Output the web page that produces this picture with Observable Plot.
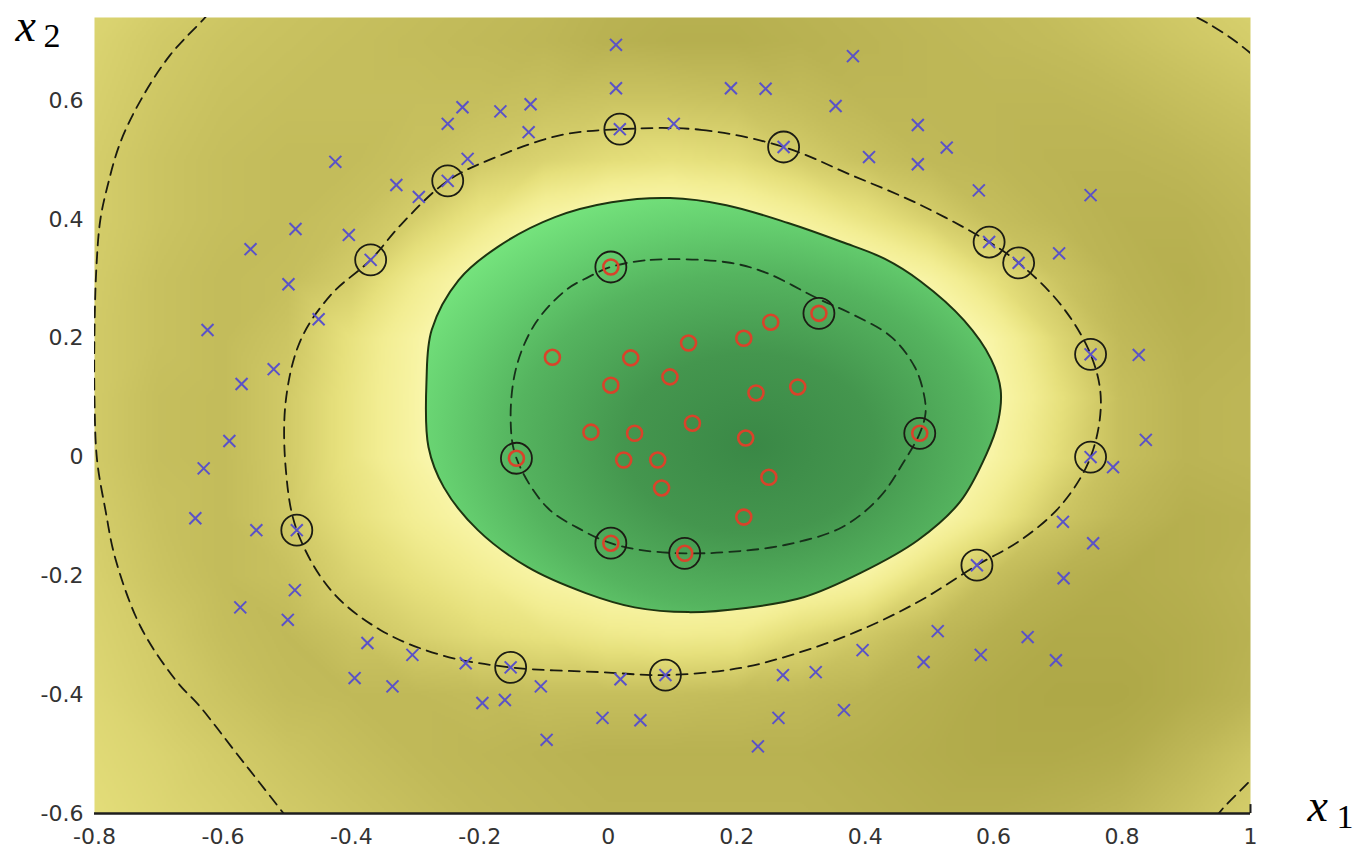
<!DOCTYPE html>
<html><head><meta charset="utf-8">
<script src="https://cdn.jsdelivr.net/npm/d3@7"></script>
<script src="https://cdn.jsdelivr.net/npm/@observablehq/plot@0.6"></script>
<style>body{margin:0;background:#fff} svg{display:block}</style>
</head><body><div id="chart"></div>
<script>
// ---------- data ----------
const xTicks = [-0.8, -0.6, -0.4, -0.2, 0, 0.2, 0.4, 0.6, 0.8, 1];
const yTicks = [-0.6, -0.4, -0.2, 0, 0.2, 0.4, 0.6];

// decision-value field, sampled on a grid (read from the shading)
const gridX = [-0.8, -0.7, -0.6, -0.5, -0.4, -0.3, -0.2, -0.1, 0, 0.1, 0.2, 0.3, 0.4, 0.5, 0.6, 0.7, 0.8, 0.9, 1.0];
const gridY = [0.8, 0.7, 0.6, 0.5, 0.4, 0.3, 0.2, 0.1, 0, -0.1, -0.2, -0.3, -0.4, -0.5, -0.6];
const decision = [
  [-0.80,-0.90,-1.00,-1.10,-1.15,-1.20,-1.25,-1.30,-1.40,-1.45,-1.45,-1.40,-1.35,-1.30,-1.25,-1.15,-1.05,-0.95,-0.85],
  [-0.85,-1.00,-1.10,-1.15,-1.20,-1.25,-1.30,-1.35,-1.45,-1.50,-1.50,-1.45,-1.40,-1.35,-1.30,-1.25,-1.15,-1.05,-0.95],
  [-0.90,-1.05,-1.15,-1.20,-1.20,-1.20,-1.20,-1.15,-1.10,-1.10,-1.15,-1.25,-1.35,-1.35,-1.35,-1.35,-1.30,-1.20,-1.10],
  [-0.95,-1.10,-1.20,-1.25,-1.25,-1.15,-1.02,-0.85,-0.70,-0.62,-0.70,-0.95,-1.15,-1.30,-1.35,-1.40,-1.40,-1.35,-1.25],
  [-0.95,-1.10,-1.20,-1.25,-1.15,-0.92,-0.50,-0.05, 0.20, 0.25, 0.10,-0.20,-0.55,-0.90,-1.20,-1.35,-1.45,-1.45,-1.35],
  [-0.98,-1.15,-1.25,-1.20,-0.95,-0.40, 0.10, 0.30, 0.30, 0.30, 0.30, 0.30, 0.25,-0.10,-0.65,-1.10,-1.40,-1.50,-1.40],
  [-1.00,-1.15,-1.25,-1.08,-0.60,-0.10, 0.30, 0.30, 0.30, 0.30, 0.30, 0.30, 0.30, 0.30,-0.08,-0.80,-1.30,-1.45,-1.40],
  [-1.00,-1.20,-1.25,-1.00,-0.55,-0.07, 0.30, 0.30, 0.30, 0.30, 0.30, 0.30, 0.30, 0.30, 0.05,-0.60,-1.20,-1.40,-1.35],
  [-1.00,-1.20,-1.25,-1.00,-0.55,-0.08, 0.30, 0.30, 0.30, 0.30, 0.30, 0.30, 0.30, 0.30,-0.08,-0.70,-1.20,-1.40,-1.35],
  [-0.95,-1.15,-1.25,-1.02,-0.65,-0.30, 0.05, 0.30, 0.30, 0.30, 0.30, 0.30, 0.30, 0.10,-0.45,-1.05,-1.35,-1.50,-1.45],
  [-0.90,-1.10,-1.25,-1.15,-0.85,-0.60,-0.35,-0.05, 0.15, 0.20, 0.20, 0.10,-0.10,-0.70,-1.20,-1.45,-1.55,-1.50,-1.40],
  [-0.85,-1.00,-1.20,-1.30,-1.10,-0.90,-0.72,-0.60,-0.45,-0.38,-0.42,-0.75,-1.02,-1.30,-1.50,-1.60,-1.60,-1.55,-1.45],
  [-0.80,-0.95,-1.10,-1.25,-1.30,-1.30,-1.25,-1.20,-1.20,-1.20,-1.25,-1.30,-1.40,-1.50,-1.60,-1.65,-1.65,-1.55,-1.40],
  [-0.75,-0.85,-0.98,-1.10,-1.20,-1.30,-1.35,-1.40,-1.45,-1.45,-1.45,-1.45,-1.50,-1.55,-1.60,-1.60,-1.55,-1.35,-1.10],
  [-0.70,-0.80,-0.90,-1.00,-1.10,-1.20,-1.30,-1.35,-1.40,-1.40,-1.40,-1.40,-1.45,-1.50,-1.50,-1.45,-1.35,-1.15,-0.95]
];
const fieldStops  = [-1.65, -1.4, -1.15, -0.95, -0.65, -0.35, -0.1, 0];
const fieldColors = ["#aea847", "#bbb454", "#c8c15f", "#d4cd6a", "#e6e07c", "#f2ed92", "#f7f3a2", "#f9f6ac"];

// decision boundary f = 0
const boundary = [[-0.283,0.130],[-0.275,0.214],[-0.233,0.298],[-0.172,0.354],[-0.083,0.404],[0.005,0.429],[0.096,0.436],[0.184,0.424],[0.280,0.394],[0.364,0.362],[0.430,0.334],[0.486,0.296],[0.554,0.230],[0.596,0.165],[0.611,0.113],[0.607,0.060],[0.588,0.003],[0.548,-0.075],[0.482,-0.140],[0.393,-0.195],[0.304,-0.236],[0.214,-0.254],[0.125,-0.261],[0.041,-0.253],[-0.035,-0.229],[-0.126,-0.185],[-0.203,-0.123],[-0.256,-0.051],[-0.280,0.017]];
// margin f = +1
const marginPos = [[0.004,0.320],[0.066,0.332],[0.184,0.328],[0.244,0.311],[0.328,0.266],[0.381,0.240],[0.441,0.202],[0.477,0.152],[0.491,0.108],[0.494,0.074],[0.485,0.040],[0.459,-0.010],[0.423,-0.067],[0.364,-0.118],[0.275,-0.148],[0.184,-0.160],[0.119,-0.162],[0.054,-0.157],[0.004,-0.145],[-0.041,-0.123],[-0.096,-0.084],[-0.143,-0.002],[-0.152,0.062],[-0.143,0.152],[-0.113,0.226],[-0.066,0.281],[-0.031,0.303]];
// margin f = -1
const marginNeg = [[0.018,0.552],[0.144,0.551],[0.273,0.522],[0.378,0.475],[0.487,0.424],[0.593,0.362],[0.639,0.327],[0.705,0.256],[0.751,0.173],[0.767,0.096],[0.751,0.000],[0.705,-0.081],[0.642,-0.140],[0.574,-0.182],[0.487,-0.241],[0.393,-0.291],[0.300,-0.328],[0.206,-0.355],[0.089,-0.367],[-0.012,-0.362],[-0.152,-0.354],[-0.261,-0.333],[-0.355,-0.291],[-0.432,-0.224],[-0.485,-0.123],[-0.502,-0.022],[-0.502,0.096],[-0.479,0.197],[-0.432,0.273],[-0.370,0.332],[-0.323,0.391],[-0.250,0.465],[-0.168,0.508],[-0.074,0.542]];
// outer f = -1 level curves
const outerLeft = [[-0.605,0.770],[-0.627,0.741],[-0.682,0.677],[-0.728,0.601],[-0.760,0.529],[-0.780,0.455],[-0.791,0.399],[-0.797,0.320],[-0.800,0.214],[-0.800,0.096],[-0.796,-0.005],[-0.783,-0.089],[-0.767,-0.173],[-0.728,-0.286],[-0.674,-0.375],[-0.635,-0.421],[-0.583,-0.493],[-0.546,-0.544],[-0.507,-0.598],[-0.495,-0.615]];
const outerTopRight = [[0.892,0.753],[0.915,0.741],[0.934,0.730],[0.970,0.705],[1.002,0.678],[1.024,0.655]];
const outerBottomRight = [[0.946,-0.606],[0.959,-0.589],[0.993,-0.552],[1.008,-0.535]];

// samples
const negPoints = [[0.012,0.694],[0.012,0.621],[0.191,0.621],[0.245,0.620],[0.381,0.675],[0.354,0.591],[-0.227,0.589],[-0.250,0.561],[-0.168,0.582],[-0.121,0.594],[-0.124,0.547],[-0.219,0.502],[0.102,0.561],[-0.425,0.497],[-0.330,0.458],[-0.295,0.438],[0.482,0.559],[0.482,0.493],[0.527,0.521],[0.406,0.505],[0.577,0.449],[0.751,0.441],[-0.487,0.384],[-0.557,0.350],[-0.404,0.374],[-0.498,0.291],[-0.451,0.232],[-0.624,0.214],[-0.571,0.123],[-0.521,0.148],[-0.590,0.027],[-0.630,-0.019],[-0.643,-0.103],[-0.548,-0.123],[-0.488,-0.224],[-0.499,-0.274],[-0.573,-0.253],[-0.375,-0.313],[-0.395,-0.372],[-0.336,-0.386],[-0.305,-0.333],[-0.222,-0.347],[-0.196,-0.414],[-0.161,-0.409],[-0.105,-0.386],[-0.096,-0.476],[-0.009,-0.439],[0.019,-0.374],[0.050,-0.443],[0.233,-0.487],[0.265,-0.439],[0.272,-0.367],[0.323,-0.362],[0.367,-0.426],[0.396,-0.325],[0.491,-0.345],[0.513,-0.293],[0.580,-0.333],[0.653,-0.303],[0.697,-0.342],[0.709,-0.204],[0.708,-0.109],[0.755,-0.145],[0.786,-0.017],[0.837,0.029],[0.826,0.172],[0.702,0.343]];
const posPoints = [[-0.087,0.168],[0.035,0.167],[0.125,0.192],[0.211,0.200],[0.253,0.227],[0.004,0.121],[0.096,0.135],[0.230,0.108],[0.295,0.118],[-0.027,0.042],[0.041,0.040],[0.131,0.057],[0.214,0.032],[0.024,-0.005],[0.077,-0.005],[0.250,-0.034],[0.083,-0.052],[0.211,-0.101]];
const negSupport = [[0.018,0.552],[0.273,0.522],[-0.250,0.465],[-0.370,0.332],[0.593,0.362],[0.639,0.327],[0.751,0.173],[0.751,0.000],[0.574,-0.182],[-0.485,-0.123],[-0.152,-0.354],[0.089,-0.367]];
const posSupport = [[0.004,0.320],[0.328,0.242],[-0.143,-0.002],[0.485,0.040],[0.004,-0.145],[0.119,-0.162]];

// ---------- build ----------
const field = [];
gridY.forEach((y, i) => gridX.forEach((x, j) => field.push({x, y, f: decision[i][j]})));
const X = d => d[0], Y = d => d[1];
const dash = "11,7";

const chart = Plot.plot({
  width: 1359, height: 855,
  marginLeft: 94, marginRight: 109, marginTop: 17, marginBottom: 42,
  style: {fontFamily: "DejaVu Sans", fontSize: "22px", color: "#333", background: "#fff", overflow: "visible"},
  x: {domain: [-0.8, 1]},
  y: {domain: [-0.6, 0.74]},
  color: {type: "linear", domain: fieldStops, range: fieldColors, clamp: true},
  marks: [
    Plot.raster(field, {x: "x", y: "y", fill: "f", interpolate: "barycentric", x1: -0.8, x2: 1, y1: -0.6, y2: 0.74, pixelSize: 2}),
    Plot.line(boundary, {x: X, y: Y, curve: "catmull-rom-closed", fill: "url(#greenGrad)", stroke: "#1d3410", strokeWidth: 2}),
    Plot.line(marginPos, {x: X, y: Y, curve: "catmull-rom-closed", stroke: "#17301a", strokeWidth: 1.8, strokeDasharray: dash}),
    Plot.line(marginNeg, {x: X, y: Y, curve: "catmull-rom-closed", stroke: "#1a1a10", strokeWidth: 1.8, strokeDasharray: dash}),
    Plot.line(outerLeft, {x: X, y: Y, curve: "catmull-rom", stroke: "#1a1a10", strokeWidth: 1.8, strokeDasharray: dash, clip: true}),
    Plot.line(outerTopRight, {x: X, y: Y, curve: "catmull-rom", stroke: "#1a1a10", strokeWidth: 1.8, strokeDasharray: dash, clip: true}),
    Plot.line(outerBottomRight, {x: X, y: Y, curve: "catmull-rom", stroke: "#1a1a10", strokeWidth: 1.8, strokeDasharray: dash, clip: true}),
    Plot.dot(posPoints.concat(posSupport), {x: X, y: Y, r: 7.5, stroke: "#d9432a", strokeWidth: 2.6, fill: "none"}),
    Plot.dot(negPoints.concat(negSupport), {x: X, y: Y, r: 5.5, symbol: "times", stroke: "#5a52c8", strokeWidth: 2}),
    Plot.dot(negSupport.concat(posSupport), {x: X, y: Y, r: 15.5, stroke: "#1c1c14", strokeWidth: 1.8, fill: "none"}),
    Plot.ruleY([-0.6], {stroke: "#1e1e1e", strokeWidth: 2.5}),
    Plot.ruleX([1], {y1: -0.6, y2: -0.585, stroke: "#1e1e1e", strokeWidth: 2}),
    Plot.axisX({ticks: xTicks, tickSize: 0, tickPadding: 15, tickFormat: d => String(d), fill: "#333", label: null}),
    Plot.axisY({ticks: yTicks, tickSize: 0, tickPadding: 11, tickFormat: d => String(d), fill: "#333", label: null}),
    Plot.text(["x"], {frameAnchor: "top-left", dx: -79, dy: 9, textAnchor: "start", lineAnchor: "middle", fontFamily: "Liberation Serif", fontStyle: "italic", fontSize: 46, fill: "#000"}),
    Plot.text(["2"], {frameAnchor: "top-left", dx: -51, dy: 19, textAnchor: "start", lineAnchor: "middle", fontFamily: "Liberation Serif", fontSize: 34, fill: "#000"}),
    Plot.text(["x"], {frameAnchor: "bottom-right", dx: 57, dy: -7, textAnchor: "start", lineAnchor: "middle", fontFamily: "Liberation Serif", fontStyle: "italic", fontSize: 46, fill: "#000"}),
    Plot.text(["1"], {frameAnchor: "bottom-right", dx: 86, dy: 4, textAnchor: "start", lineAnchor: "middle", fontFamily: "Liberation Serif", fontSize: 34, fill: "#000"})
  ]
});

const ns = "http://www.w3.org/2000/svg";
const defs = document.createElementNS(ns, "defs");
defs.innerHTML = `<radialGradient id="greenGrad" cx="0.55" cy="0.58" r="0.62" fx="0.57" fy="0.6">
  <stop offset="0" stop-color="#3a8846"/>
  <stop offset="0.35" stop-color="#44964e"/>
  <stop offset="0.65" stop-color="#55b45f"/>
  <stop offset="0.85" stop-color="#66d070"/>
  <stop offset="1" stop-color="#74e27c"/>
</radialGradient>`;
chart.insertBefore(defs, chart.firstChild);
document.getElementById("chart").appendChild(chart);
</script>
</body></html>
